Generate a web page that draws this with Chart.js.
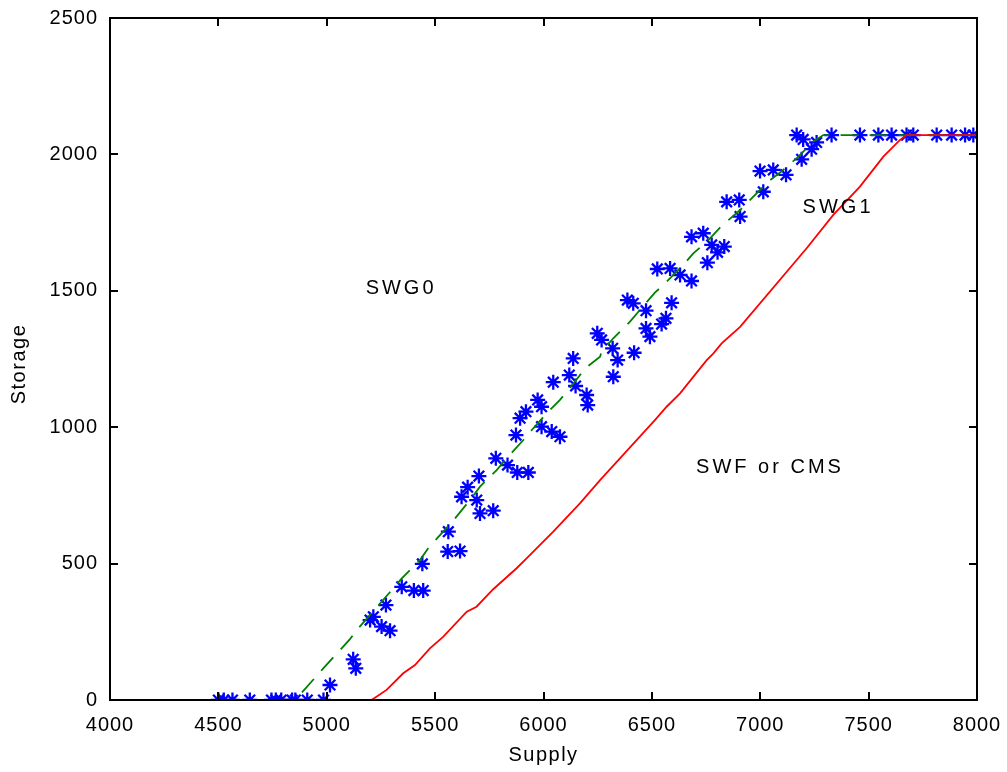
<!DOCTYPE html>
<html>
<head>
<meta charset="utf-8">
<script src="https://cdn.jsdelivr.net/npm/chart.js@4"></script>
<style>
  html, body { margin: 0; padding: 0; background: #fff; }
  #wrap { width: 1007px; height: 772px; position: relative; }
</style>
</head>
<body>
<div id="wrap"><canvas id="myChart"></canvas></div>
<script>
// observed runs (stars)
const starSupply = [
  4500, 4525, 4565, 4645, 4745, 4765, 4790, 4840, 4855, 4910, 4985,
  5015, 5122, 5134, 5200, 5215, 5253, 5292, 5273,
  5346, 5402, 5445, 5441, 5561, 5558, 5615,
  5622, 5650, 5692, 5702, 5707, 5768,
  5780, 5834, 5879, 5930,
  5873, 5892, 5919, 5973, 5991, 5991, 6038, 6076,
  6045, 6119, 6137, 6148, 6199, 6204,
  6248, 6268, 6319, 6342, 6418, 6322,
  6387, 6414, 6473, 6591, 6565, 6545, 6473, 6491,
  6525, 6584, 6630, 6683,
  6683, 6737, 6776, 6834, 6803, 6756,
  6845, 6903, 6907,
  6999, 7060, 7014, 7119, 7191,
  7168, 7198, 7260, 7237,
  7329, 7460, 7545, 7606, 7675, 7706, 7814, 7883, 7945, 7983
];
const starStorage = [
  0, 0, 0, 0, 0, 0, 0, 0, 0, 0, 0,
  55, 149, 116, 293, 305, 269, 254, 348,
  415, 401, 401, 499, 617, 544, 546,
  745, 780, 733, 821, 684, 694,
  886, 861, 834, 834,
  971, 1033, 1057, 1100, 1075, 1002, 984, 965,
  1165, 1191, 1252, 1151, 1118, 1081,
  1344, 1320, 1289, 1246, 1273, 1185,
  1466, 1454, 1427, 1456, 1399, 1378, 1362, 1332,
  1580, 1582, 1558, 1536,
  1698, 1711, 1668, 1662, 1641, 1603,
  1826, 1833, 1772,
  1939, 1943, 1863, 1925, 1982,
  2071, 2055, 2044, 2019,
  2071, 2071, 2071, 2071, 2071, 2071, 2071, 2071, 2071, 2071
];

// SWG0 curve (green dashed)
const swgSupply = [4500, 4855, 4984, 5107, 5138, 5300, 5346, 5430, 5468, 5592, 5661, 5707, 5784, 5830,
  5907, 5953, 6022, 6076, 6145, 6191, 6261, 6268, 6322, 6399, 6445, 6514, 6568, 6645, 6691,
  6753, 6826, 6907, 6960, 7037, 7106, 7176, 7245, 7291, 8000];
const swgStorage = [0, 0, 116, 223, 256, 403, 446, 513, 556, 666, 733, 782, 843, 886,
  953, 996, 1057, 1100, 1167, 1215, 1258, 1277, 1326, 1387, 1430, 1493, 1533, 1595, 1637,
  1680, 1741, 1796, 1839, 1900, 1943, 1992, 2047, 2071, 2071];

// SWF / CMS curve (red)
const swfSupply = [4500, 5207, 5276, 5353, 5407, 5476, 5538, 5646, 5691, 5768, 5876, 5922, 6045,
  6168, 6261, 6514, 6568, 6630, 6753, 6783, 6822, 6907, 7214, 7337, 7460, 7568, 7645, 7675, 8000];
const swfStorage = [0, 0, 37, 98, 128, 189, 232, 324, 342, 406, 483, 519, 617,
  721, 806, 1026, 1075, 1124, 1246, 1270, 1307, 1368, 1656, 1778, 1882, 1992, 2053, 2071, 2071];

const xTicks = [4000, 4500, 5000, 5500, 6000, 6500, 7000, 7500, 8000];
const yTicks = [0, 500, 1000, 1500, 2000, 2500];

const notes = [
  { text: 'SWG0', x: 5343, y: 1510 },
  { text: 'SWG1', x: 7359, y: 1807 },
  { text: 'SWF or CMS', x: 7045, y: 854 }
];

const pts = (xs, ys) => xs.map((x, i) => ({ x: x, y: ys[i] }));

const FONT = 'Liberation Sans, Arial, Helvetica, sans-serif';

// box, inward ticks, labels and axis titles
const frame = {
  id: 'frame',
  beforeDraw(chart) {
    chart.ctx.letterSpacing = '1px';
  },
  afterDraw(chart) {
    const ctx = chart.ctx;
    const a = chart.chartArea;
    const xs = chart.scales.x, ys = chart.scales.y;
    ctx.save();
    ctx.strokeStyle = '#000';
    ctx.lineWidth = 2;
    ctx.strokeRect(a.left, a.top, a.right - a.left, a.bottom - a.top);
    ctx.beginPath();
    xTicks.forEach(v => {
      const px = Math.round(xs.getPixelForValue(v));
      ctx.moveTo(px, a.bottom); ctx.lineTo(px, a.bottom - 8);
      ctx.moveTo(px, a.top); ctx.lineTo(px, a.top + 8);
    });
    yTicks.forEach(v => {
      const py = Math.round(ys.getPixelForValue(v));
      ctx.moveTo(a.left, py); ctx.lineTo(a.left + 8, py);
      ctx.moveTo(a.right, py); ctx.lineTo(a.right - 8, py);
    });
    ctx.stroke();

    ctx.fillStyle = '#000';
    ctx.letterSpacing = '3px';
    ctx.font = '20px ' + FONT;
    ctx.textAlign = 'center';
    ctx.textBaseline = 'middle';
    notes.forEach(n => {
      ctx.fillText(n.text, xs.getPixelForValue(n.x), ys.getPixelForValue(n.y));
    });

    ctx.letterSpacing = '1.5px';
    ctx.font = '20px ' + FONT;
    ctx.fillText('Supply', (a.left + a.right) / 2, 755);
    ctx.translate(19, 364);
    ctx.rotate(-Math.PI / 2);
    ctx.fillText('Storage', 0, 0);
    ctx.restore();
  }
};

const data = {
  datasets: [
    {
      label: 'runs',
      data: pts(starSupply, starStorage),
      showLine: false,
      pointStyle: 'star',
      pointRadius: 7.5,
      pointBorderWidth: 2.3,
      borderColor: 'rgb(0,0,255)',
      backgroundColor: 'rgb(0,0,255)',
      order: 3
    },
    {
      label: 'SWG0',
      data: pts(swgSupply, swgStorage),
      showLine: true,
      pointRadius: 0,
      borderColor: 'rgb(0,128,0)',
      borderWidth: 1.8,
      borderDash: [18, 11],
      tension: 0,
      order: 2
    },
    {
      label: 'SWF',
      data: pts(swfSupply, swfStorage),
      showLine: true,
      pointRadius: 0,
      borderColor: 'rgb(255,0,0)',
      borderWidth: 1.8,
      tension: 0,
      order: 1
    }
  ]
};

const config = {
  type: 'scatter',
  data: data,
  options: {
    responsive: true,
    maintainAspectRatio: false,
    animation: false,
    events: [],
    layout: { padding: { left: 0, right: 30, top: 18, bottom: 0 } },
    plugins: { legend: { display: false }, tooltip: { enabled: false } },
    scales: {
      x: {
        type: 'linear',
        min: 4000, max: 8000,
        afterBuildTicks: s => { s.ticks = xTicks.map(v => ({ value: v })); },
        afterFit: s => { s.height = 72; s.paddingLeft = 0; s.paddingRight = 0; },
        grid: { display: false, drawTicks: false },
        border: { display: false },
        ticks: { color: '#000', padding: 13, maxRotation: 0, callback: v => String(v), font: { size: 20, family: FONT } }
      },
      y: {
        type: 'linear',
        min: 0, max: 2500,
        afterBuildTicks: s => { s.ticks = yTicks.map(v => ({ value: v })); },
        afterFit: s => { s.width = 110; s.paddingTop = 0; s.paddingBottom = 0; },
        grid: { display: false, drawTicks: false },
        border: { display: false },
        ticks: { color: '#000', padding: 12, callback: v => String(v), font: { size: 20, family: FONT } }
      }
    }
  },
  plugins: [frame]
};

const myChart = new Chart(document.getElementById('myChart'), config);
</script>
</body>
</html>
